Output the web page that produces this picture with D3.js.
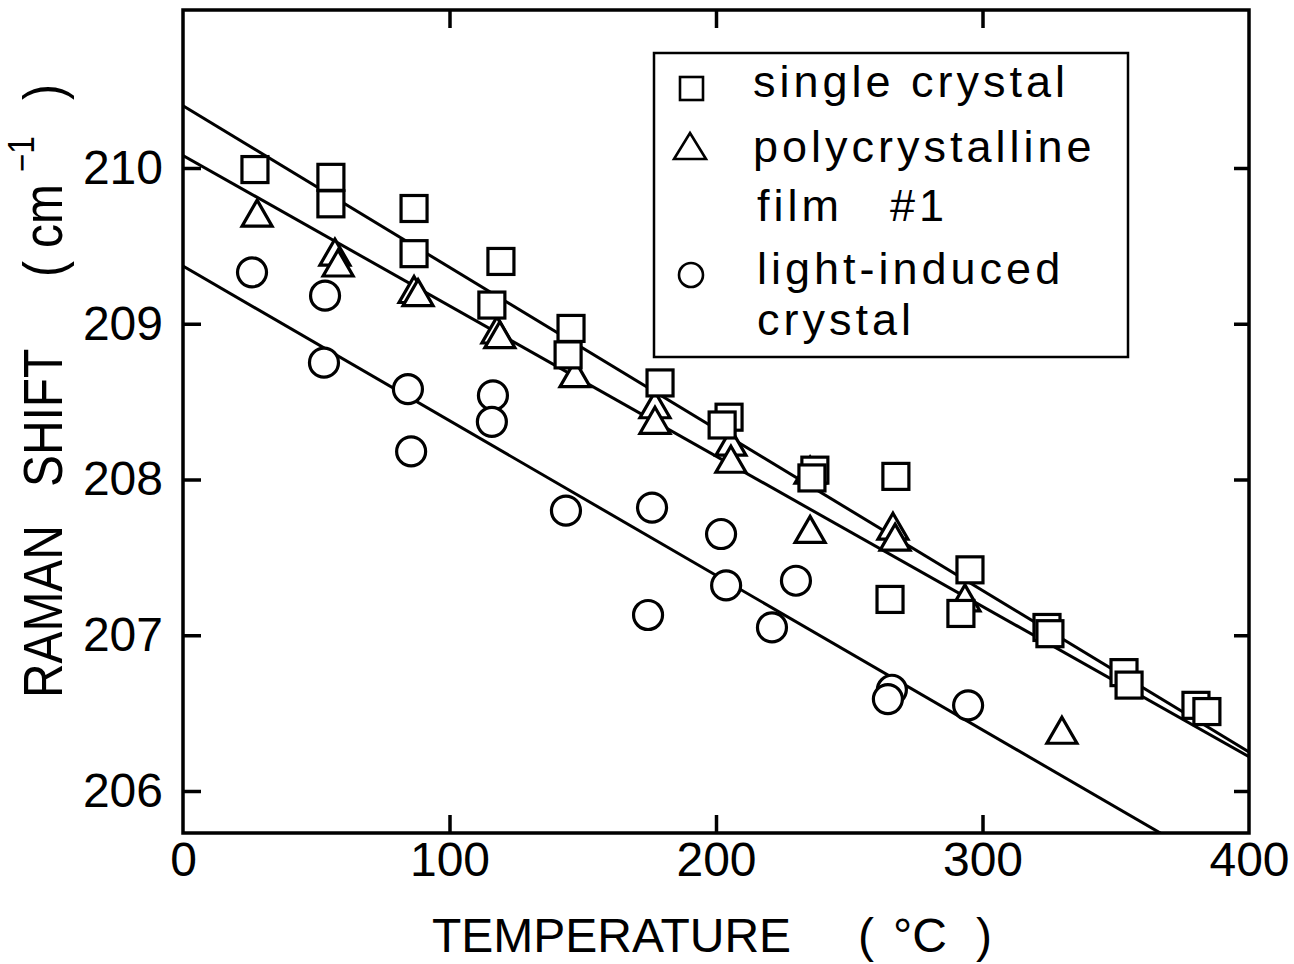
<!DOCTYPE html>
<html><head><meta charset="utf-8">
<script src="https://cdn.jsdelivr.net/npm/d3@7"></script>
<style>html,body{margin:0;background:#fff}</style>
</head><body>
<svg id="c" width="1294" height="964"></svg>
<script>
// ---- data ----
const xTicks = [0, 100, 200, 300, 400];
const yTicks = [206, 207, 208, 209, 210];
const xTopTicks = [100, 200, 300];

// single crystal (squares)
const singleT = [27.0,55.5,55.5,86.7,86.7,119.3,115.9,145.6,144.5,179.0,204.9,202.3,237.1,236.0,267.5,265.3,295.3,291.9,324.2,325.3,353.1,355.0,380.1,384.2];
const singleV = [209.99,209.94,209.77,209.74,209.45,209.40,209.12,208.97,208.80,208.62,208.40,208.35,208.06,208.01,208.02,207.23,207.42,207.14,207.05,207.01,206.76,206.68,206.55,206.51];
// polycrystalline film #1 (triangles)
const polyT = [27.8,57.0,58.2,86.7,88.2,117.8,118.9,147.1,177.1,177.1,205.6,205.6,235.3,235.3,266.4,267.2,293.4,329.8];
const polyV = [209.71,209.46,209.39,209.22,209.20,208.96,208.93,208.68,208.48,208.38,208.24,208.13,208.06,207.68,207.70,207.63,207.24,206.39];
// light-induced crystal (circles)
const lightT = [25.9,53.3,52.9,84.4,85.6,116.3,115.9,143.7,176.0,174.5,201.9,203.8,221.0,230.0,266.0,264.5,294.6];
const lightV = [209.33,209.18,208.75,208.58,208.18,208.54,208.37,207.80,207.82,207.13,207.65,207.32,207.05,207.35,206.65,206.59,206.55];

// linear fits (endpoints at T = 0 and 400)
const fitT = [0, 400];
const fitSingle = [210.40, 206.25];
const fitPoly = [210.08, 206.22];
const fitLight = [209.37, 205.40];

const legendLabels = ["single crystal", "polycrystalline", "film", "#1", "light-induced", "crystal"];
const xTitle = ["TEMPERATURE", "(", "°C", ")"];
const yTitle = ["RAMAN", "SHIFT", "(", "cm", "−1", ")"];

// ---- layout ----
const L = 183, R = 1249, T = 10, B = 833;
const svg = d3.select("#c");
const x = d3.scaleLinear().domain([0, 400]).range([L, R]);
const y = d3.scaleLinear().domain([206, 210]).range([791, 168]);
const FONT = "'Liberation Sans', Arial, sans-serif";

svg.append("defs").append("clipPath").attr("id", "clip")
  .append("rect").attr("x", L).attr("y", T).attr("width", R - L).attr("height", B - T);

// fit lines
const line = d3.line().x(d => x(d[0])).y(d => y(d[1]));
[fitSingle, fitPoly, fitLight].forEach(f => {
  svg.append("path")
    .datum(fitT.map((t, i) => [t, f[i]]))
    .attr("d", line)
    .attr("clip-path", "url(#clip)")
    .attr("fill", "none").attr("stroke", "#000").attr("stroke-width", 3);
});

// markers
const SW = 3.2;
const circ = svg.append("g");
lightT.forEach((t, i) => {
  circ.append("circle").attr("cx", x(t)).attr("cy", y(lightV[i])).attr("r", 14.5)
    .attr("fill", "#fff").attr("stroke", "#000").attr("stroke-width", SW);
});
const triPath = "M0,-13L15,13L-15,13Z";
const tri = svg.append("g");
polyT.forEach((t, i) => {
  tri.append("path").attr("d", triPath)
    .attr("transform", `translate(${x(t)},${y(polyV[i])})`)
    .attr("fill", "#fff").attr("stroke", "#000").attr("stroke-width", SW).attr("stroke-linejoin", "miter");
});
const sq = svg.append("g");
singleT.forEach((t, i) => {
  sq.append("rect").attr("x", x(t) - 13).attr("y", y(singleV[i]) - 13).attr("width", 26).attr("height", 26)
    .attr("fill", "#fff").attr("stroke", "#000").attr("stroke-width", SW);
});

// frame
svg.append("rect").attr("x", L).attr("y", T).attr("width", R - L).attr("height", B - T)
  .attr("fill", "none").attr("stroke", "#000").attr("stroke-width", 3.5);

function styleAxis(g) {
  g.select(".domain").remove();
  g.selectAll(".tick line").attr("stroke", "#000").attr("stroke-width", 3.5);
  g.selectAll(".tick text").attr("fill", "#000").style("font-family", FONT).style("font-size", "48px");
}
svg.append("g").attr("transform", `translate(0,${B})`)
  .call(d3.axisBottom(x).tickValues(xTicks).tickSize(-18).tickPadding(9).tickFormat(d3.format("d")))
  .call(styleAxis)
  .call(g => g.selectAll(".tick").filter(d => d === 0 || d === 400).select("line").remove());
svg.append("g").attr("transform", `translate(0,${T})`)
  .call(d3.axisTop(x).tickValues(xTopTicks).tickSize(-18).tickFormat(""))
  .call(styleAxis);
svg.append("g").attr("transform", `translate(${L},0)`)
  .call(d3.axisLeft(y).tickValues(yTicks).tickSize(-18).tickPadding(20).tickFormat(d3.format("d")))
  .call(styleAxis);
svg.append("g").attr("transform", `translate(${R},0)`)
  .call(d3.axisRight(y).tickValues(yTicks).tickSize(-15).tickFormat(""))
  .call(styleAxis);

// axis titles
const xt = svg.append("text").attr("y", 952).style("font-family", FONT).style("font-size", "48px").attr("fill", "#000");
[[xTitle[0], 432], [xTitle[1], 858], [xTitle[2], 893], [xTitle[3], 976]].forEach(([s, px]) =>
  xt.append("tspan").attr("x", px).text(s));

const s = 0.87;
const yt = svg.append("text").attr("transform", `translate(62,698) rotate(-90) scale(${s},1)`)
  .style("font-family", FONT).style("font-size", "55px").attr("fill", "#000");
const yPos = [0, 211, 421, 450, 526, 598];
yTitle.forEach((str, i) => {
  const tsp = yt.append("tspan").attr("x", yPos[i] / s).attr("y", str === "−1" ? -28 : 0).text(str);
  if (str === "−1") tsp.style("font-size", "36px");
});

// legend
svg.append("rect").attr("x", 654).attr("y", 53).attr("width", 474).attr("height", 304)
  .attr("fill", "#fff").attr("stroke", "#000").attr("stroke-width", 2.5);
svg.append("rect").attr("x", 680).attr("y", 77).attr("width", 23).attr("height", 23)
  .attr("fill", "#fff").attr("stroke", "#000").attr("stroke-width", 2.6);
svg.append("path").attr("d", "M0,-13L16,13L-16,13Z").attr("transform", "translate(690,146)")
  .attr("fill", "#fff").attr("stroke", "#000").attr("stroke-width", 2.6);
svg.append("circle").attr("cx", 691).attr("cy", 275).attr("r", 12)
  .attr("fill", "#fff").attr("stroke", "#000").attr("stroke-width", 2.6);
const legPos = [[753, 97], [753, 162], [757, 221], [890, 221], [757, 284], [757, 335]];
legendLabels.forEach((str, i) => {
  svg.append("text").attr("x", legPos[i][0]).attr("y", legPos[i][1]).text(str)
    .style("font-family", FONT).style("font-size", "45px").style("letter-spacing", "4px").attr("fill", "#000");
});
</script>
</body></html>
